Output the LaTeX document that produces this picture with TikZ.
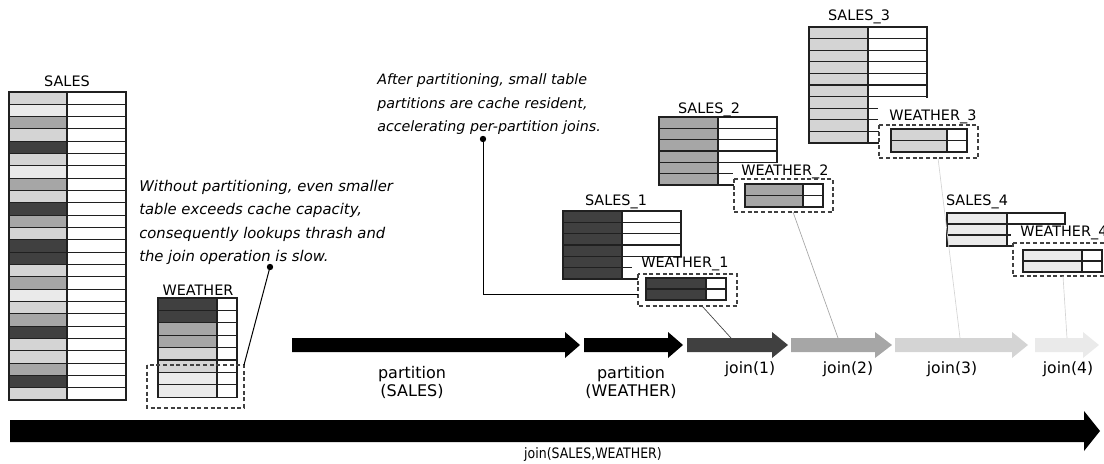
\documentclass[tikz,border=0pt]{standalone}
\usepackage{fontspec}
\setmainfont{DejaVu Sans}
\definecolor{cDark}{HTML}{404040}
\definecolor{cMid}{HTML}{A6A6A6}
\definecolor{cLight}{HTML}{D4D4D4}
\definecolor{cPale}{HTML}{EAEAEA}
\definecolor{cRule}{HTML}{202020}
\tikzset{
  tablerule/.style={draw=cRule, line width=0.8pt},
  cachebox/.style={draw=cDark, fill=white, dashed, dash pattern=on 3pt off 2pt, line width=0.8pt},
  lbl/.style={inner sep=0pt, font=\fontsize{10.8pt}{13pt}\selectfont},
  joinlbl/.style={inner sep=0pt, font=\fontsize{11.7pt}{14pt}\selectfont},
  note/.style={inner sep=0pt, align=left},
  oplbl/.style={inner sep=0pt, align=center, font=\fontsize{12pt}{13.5pt}\selectfont},
  pointer/.style={draw=black, line width=0.75pt},
  leader/.style={line width=0.5pt},
}
% two-column table: left x, split x, right x, top y, row height, row colours
\newcommand{\celltable}[6]{%
  \foreach \c [count=\k] in {#6}{%
    \pgfmathsetmacro{\ya}{#4+(\k-1)*#5}%
    \pgfmathsetmacro{\yb}{#4+\k*#5}%
    \filldraw[tablerule, fill=\c] (#1,\ya) rectangle (#2,\yb);%
    \filldraw[tablerule, fill=white] (#2,\ya) rectangle (#3,\yb);%
  }%
}
% block arrow: start x, head base x, tip x, centre y, body half, head half, colour
\newcommand{\blockarrow}[7]{%
  \fill[#7] (#1,#4-#5) -- (#2,#4-#5) -- (#2,#4-#6) -- (#3,#4)
    -- (#2,#4+#6) -- (#2,#4+#5) -- (#1,#4+#5) -- cycle;%
}
\begin{document}
\begin{tikzpicture}[x=0.75pt, y=-0.75pt]
\clip (0,0) rectangle (1104,464);

% ---- unpartitioned SALES table
\node[lbl, anchor=base] (salesLbl) at (67,86) {SALES};
\celltable{9}{67}{126}{92}{12.32}{cLight,cPale,cMid,cLight,cDark,cLight,cPale,cMid,cLight,cDark,cMid,cLight,cDark,cDark,cLight,cMid,cPale,cLight,cMid,cDark,cLight,cLight,cMid,cDark,cLight}

% ---- unpartitioned WEATHER table
\node[lbl, anchor=base] (weatherLbl) at (198,295) {WEATHER};
\celltable{158}{217}{237}{298}{12.4}{cDark,cDark,cMid,cMid,cLight,cLight,cPale,cPale}
\draw[cachebox, fill=none] (147,365) rectangle (244,408);
\coordinate (cacheA) at (244,365);

% ---- note on the unpartitioned join
\node[note, anchor=north west, font=\itshape\fontsize{11.1pt}{17.6pt}\selectfont] (noteA) at (139,179.8)
  {Without partitioning, even smaller\\table exceeds cache capacity,\\consequently lookups thrash and\\the join operation is slow.};
\coordinate (dotA) at (270,267);
\draw[pointer] (dotA) -- (cacheA);
\fill (dotA) circle (3.2);

% ---- partition 1
\celltable{563}{622}{681}{211}{11.33}{cDark,cDark,cDark,cDark,cDark,cDark}
\node[lbl, anchor=base] (s1Lbl) at (616,205) {SALES\_1};
\fill[white] (632,257.2) rectangle (692,274);
\node[lbl, anchor=base west] (w1Lbl) at (641,267) {WEATHER\_1};
\draw[cachebox] (638,274) rectangle (737,306);
\celltable{646}{706}{726}{278}{11}{cDark,cDark}
\coordinate (box1) at (702,306);

% ---- partition 2
\celltable{659}{718}{777}{117}{11.33}{cMid,cMid,cMid,cMid,cMid,cMid}
\node[lbl, anchor=base] (s2Lbl) at (709,113) {SALES\_2};
\fill[white] (733,163.2) rectangle (790,179);
\node[lbl, anchor=base west] (w2Lbl) at (741,175) {WEATHER\_2};
\draw[cachebox] (734,179) rectangle (833,212);
\celltable{745}{803}{823}{184}{11.5}{cMid,cMid}
\coordinate (box2) at (793,212);

% ---- partition 3
\celltable{809}{868}{927}{27}{11.6}{cLight,cLight,cLight,cLight,cLight,cLight,cLight,cLight,cLight,cLight}
\node[lbl, anchor=base] (s3Lbl) at (859,21) {SALES\_3};
\fill[white] (878,97.6) rectangle (935,125);
\node[lbl, anchor=base west] (w3Lbl) at (889,120) {WEATHER\_3};
\draw[cachebox] (879,125) rectangle (978,158);
\celltable{891}{947}{967}{129}{11.5}{cLight,cLight}
\coordinate (box3) at (938,158);

% ---- partition 4
\celltable{947}{1007}{1065}{213}{11}{cPale,cPale,cPale}
\node[lbl, anchor=base] (s4Lbl) at (977,205) {SALES\_4};
\fill[white] (1011,224.8) rectangle (1075,243);
\node[lbl, anchor=base west] (w4Lbl) at (1020,236) {WEATHER\_4};
\draw[cachebox] (1013,243) rectangle (1112,276);
\celltable{1023}{1082}{1102}{250}{11}{cPale,cPale}
\coordinate (box4) at (1063,276);

% ---- note on the partitioned joins
\node[note, anchor=north west, font=\itshape\fontsize{10.7pt}{17.5pt}\selectfont] (noteB) at (377,73.6)
  {After partitioning, small table\\partitions are cache resident,\\accelerating per-partition joins.};
\coordinate (dotB) at (483,139);
\coordinate (bendB) at (483,294);
\coordinate (cacheB) at (638,294);
\draw[pointer] (dotB) -- (bendB) -- (cacheB);
\fill (dotB) circle (3.2);

% ---- phase arrows
\blockarrow{292}{565}{580}{345}{7}{13}{black}
\blockarrow{584}{668}{683}{345}{7}{13}{black}
\blockarrow{687}{772}{788}{345}{7}{13}{cDark}
\blockarrow{791}{875}{892}{345}{7}{13}{cMid}
\blockarrow{895}{1012}{1028}{345}{7}{13}{cLight}
\blockarrow{1035}{1083}{1099}{345}{7}{13}{cPale}
\coordinate (join1) at (731,338);
\coordinate (join2) at (838,338);
\coordinate (join3) at (960,338);
\coordinate (join4) at (1067,338);

\draw[leader, cDark] (box1) -- (join1);
\draw[leader, cMid] (box2) -- (join2);
\draw[leader, cLight] (box3) -- (join3);
\draw[leader, cLight] (box4) -- (join4);

\node[oplbl, anchor=north] (pSales) at (412,366) {partition\\(SALES)};
\node[oplbl, anchor=north] (pWeather) at (631,366) {partition\\(WEATHER)};
\node[joinlbl, anchor=base] (j1Lbl) at (750,373.5) {join(1)};
\node[joinlbl, anchor=base] (j2Lbl) at (848,373.5) {join(2)};
\node[joinlbl, anchor=base] (j3Lbl) at (952,373.5) {join(3)};
\node[joinlbl, anchor=base] (j4Lbl) at (1068,373.5) {join(4)};

% ---- whole join
\blockarrow{10}{1084}{1100}{431}{11}{20}{black}
\node[lbl, anchor=base] (joinAll) at (593,458) {\scalebox{0.87}[1]{join(SALES,WEATHER)}};
\end{tikzpicture}
\end{document}
